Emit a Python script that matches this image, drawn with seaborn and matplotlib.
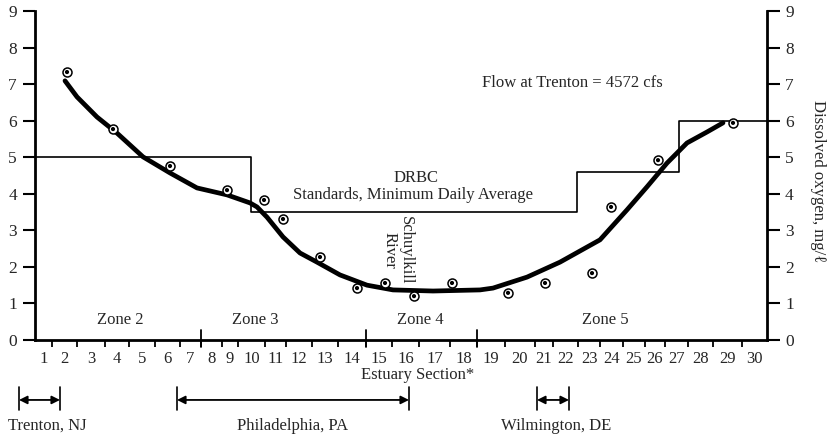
import numpy as np
import pandas as pd
import matplotlib
matplotlib.use("Agg")
import matplotlib.pyplot as plt
import seaborn as sns

# distance along the estuary (arbitrary units), Trenton at 0
section_edges = [0, 17, 42, 70, 94, 120, 145, 166, 187, 203, 230, 251, 277, 303, 331,
                 357, 384, 415, 442, 470, 500, 518, 543, 565, 588, 610, 630, 653, 678,
                 707, 732]
section_labels = [str(i) for i in range(1, 31)]
zone_edges = [166, 331, 442]
zone_names = ["Zone 2", "Zone 3", "Zone 4", "Zone 5"]
zone_label_x = [85, 220, 385, 570]

# observed dissolved oxygen, mg/l
obs_x = [32, 78, 135, 192, 229, 248, 285, 322, 350, 379, 417, 473, 510, 557, 576, 623, 698]
obs_do = [7.33, 5.77, 4.76, 4.10, 3.83, 3.31, 2.27, 1.42, 1.56, 1.20, 1.56, 1.29, 1.56,
          1.83, 3.64, 4.92, 5.94]

# fitted profile
fit_x = [30, 42, 62, 82, 108, 135, 162, 192, 215, 222, 232, 248, 265, 282, 305, 332,
         358, 398, 445, 458, 492, 525, 565, 592, 612, 632, 652, 672, 688]
fit_do = [7.09, 6.65, 6.10, 5.66, 5.01, 4.57, 4.16, 3.97, 3.75, 3.64, 3.36, 2.82, 2.38,
          2.13, 1.78, 1.50, 1.37, 1.34, 1.37, 1.42, 1.72, 2.13, 2.74, 3.56, 4.19, 4.84,
          5.39, 5.69, 5.94]

# DRBC standard, minimum daily average (step changes)
std_x = [0, 216, 542, 644, 732]
std_do = [5.0, 3.5, 4.6, 6.0, 6.0]

# city reaches below the axis
cities = ["Trenton, NJ", "Philadelphia, PA", "Wilmington, DE"]
city_start = [-16, 142, 502]
city_end = [25, 374, 534]
city_label_x = [12, 258, 521]

sns.set_style("white")
plt.rcParams['font.family'] = ['Liberation Serif', 'DejaVu Serif']

fig = plt.figure(figsize=(8.27, 4.42), dpi=100)
ax = fig.add_axes([35 / 827, 1 - 340 / 442, 732 / 827, 329 / 442])

std = pd.DataFrame({"x": std_x, "do": std_do})
fit = pd.DataFrame({"x": fit_x, "do": fit_do})
obs = pd.DataFrame({"x": obs_x, "do": obs_do})

sns.lineplot(data=std, x="x", y="do", ax=ax, color="black", lw=1.2,
             drawstyle="steps-post", estimator=None)
sns.lineplot(data=fit, x="x", y="do", ax=ax, color="black", lw=3.4,
             estimator=None, solid_capstyle="round", solid_joinstyle="round")
sns.scatterplot(data=obs, x="x", y="do", ax=ax, s=42, facecolor="white",
                edgecolor="black", linewidth=1.1, zorder=5)
sns.scatterplot(data=obs, x="x", y="do", ax=ax, s=9, color="black",
                edgecolor="none", zorder=6)

ax.set_xlim(0, 732)
ax.set_ylim(0, 9)
ax.set_xlabel("")
ax.set_ylabel("")

for side in ["left", "right", "bottom"]:
    ax.spines[side].set_linewidth(2.0)
    ax.spines[side].set_color("black")
ax.spines["top"].set_visible(False)

mids = [(a + b) / 2 for a, b in zip(section_edges[:-1], section_edges[1:])]
ax.set_xticks(mids)
ax.set_xticklabels(section_labels, fontsize=12)
ax.set_xticks(section_edges[1:-1], minor=True)
ax.tick_params(axis="x", which="major", length=0, pad=8)
ax.tick_params(axis="x", which="minor", length=5, width=1.3, direction="out",
               color="black", bottom=True)

ax.set_yticks(range(0, 10))
ax.tick_params(axis="y", which="major", length=9, width=1.5, direction="out",
               left=True, right=True, labelleft=True, labelright=True,
               labelsize=12.5, pad=4, color="black")

# zone boundaries
for z in zone_edges:
    ax.plot([z, z], [0.27, -0.19], color="black", lw=1.3, clip_on=False)
for name, zx in zip(zone_names, zone_label_x):
    ax.text(zx, 0.55, name, ha="center", va="center", fontsize=12)

ax.text(537, 7.03, "Flow at Trenton = 4572 cfs", ha="center", va="center", fontsize=12)
ax.text(381, 4.43, "DRBC", ha="center", va="center", fontsize=12)
ax.text(378, 3.97, "Standards, Minimum Daily Average", ha="center", va="center",
        fontsize=12)
ax.text(363, 2.46, "Schuylkill\nRiver", ha="center", va="center", rotation=270,
        multialignment="center", fontsize=12, linespacing=1.0)

ax.text(383, -0.96, "Estuary Section*", ha="center", va="center", fontsize=12,
        clip_on=False)

# reaches of the main cities
for name, a, b, lx in zip(cities, city_start, city_end, city_label_x):
    ax.annotate("", xy=(a, -1.64), xytext=(b, -1.64), xycoords="data",
                arrowprops=dict(arrowstyle="<|-|>", color="black", lw=1.3,
                                shrinkA=0, shrinkB=0, mutation_scale=12),
                annotation_clip=False)
    for e in (a, b):
        ax.plot([e, e], [-1.29, -1.91], color="black", lw=1.2, clip_on=False)
    ax.text(lx, -2.35, name, ha="center", va="center", fontsize=12, clip_on=False)

fig.text(818 / 827, 1 - 181 / 442, "Dissolved oxygen, mg/\u2113", rotation=270,
         ha="center", va="center", fontsize=12)

fig.savefig("out.png", dpi=100)
